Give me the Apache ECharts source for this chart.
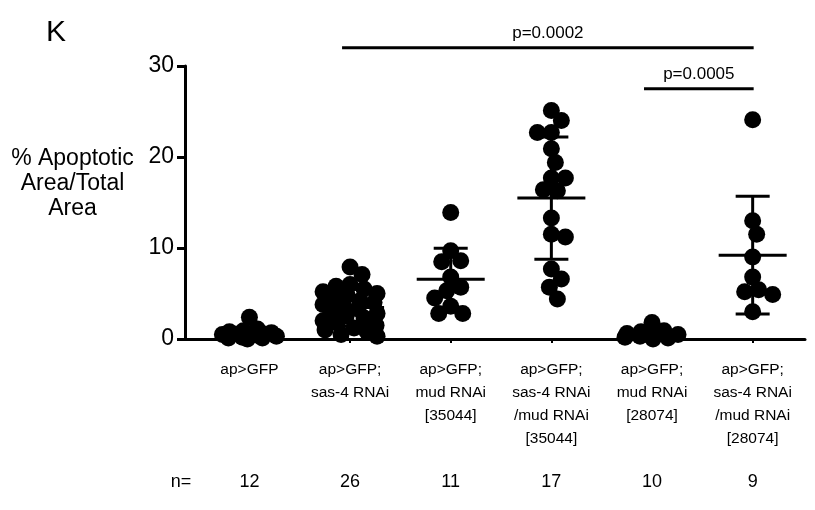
<!DOCTYPE html>
<html><head><meta charset="utf-8">
<script src="https://cdn.jsdelivr.net/npm/echarts@6/dist/echarts.min.js"></script>
<style>html,body{margin:0;padding:0;background:#fff}#c{width:815px;height:510px}</style>
</head><body><div id="c"></div>
<script>
// ---- data ----
const categories = [
  'ap>GFP',
  'ap>GFP;\nsas-4 RNAi',
  'ap>GFP;\nmud RNAi\n[35044]',
  'ap>GFP;\nsas-4 RNAi\n/mud RNAi\n[35044]',
  'ap>GFP;\nmud RNAi\n[28074]',
  'ap>GFP;\nsas-4 RNAi\n/mud RNAi\n[28074]'
];
const apGFP = [2.4, 1.1, 0.9, 0.8, 0.7, 0.5, 0.4, 0.3, 0.2, 0.1, 0.1, 0.0];
const sas4 = [7.9, 7.1, 6.0, 5.8, 5.5, 5.2, 5.0, 4.8, 4.5, 4.2, 4.0, 3.8, 3.5, 3.3, 3.0, 2.8, 2.5, 2.3, 2.0, 1.8, 1.5, 1.2, 1.0, 0.8, 0.5, 0.3];
const mud35044 = [13.9, 9.7, 8.6, 8.5, 6.8, 5.7, 5.3, 4.5, 3.6, 2.8, 2.8];
const sas4mud35044 = [25.1, 24.0, 22.7, 22.7, 20.9, 19.4, 17.7, 17.7, 16.4, 16.3, 13.3, 11.2, 11.5, 7.7, 6.6, 5.7, 4.4];
const mud28074 = [1.8, 0.9, 0.8, 0.6, 0.5, 0.4, 0.3, 0.2, 0.1, 0.0];
const sas4mud28074 = [24.1, 13.0, 11.5, 9.0, 6.8, 5.4, 5.2, 4.9, 3.0];
const groups = [apGFP, sas4, mud35044, sas4mud35044, mud28074, sas4mud28074];
const yTickValues = [0, 10, 20, 30];
const bracketFrom = [1, 4];
const bracketTo = [5, 5];
const bracketText = ['p=0.0002', 'p=0.0005'];
const bracketLevel = [32, 27.5];
const panelLetter = 'K';
const yTitle = '% Apoptotic\nArea/Total\nArea';
const nPrefix = 'n=';

// ---- chart ----
const FONT = '"Liberation Sans", Arial, Helvetica, sans-serif';
const chart = echarts.init(document.getElementById('c'), null, {renderer: 'canvas'});
const X_MIN = -0.64, X_MAX = 5.52;
const idx = groups.map((g, i) => i);

function meanSd(a) {
  const m = a.reduce((s, v) => s + v, 0) / a.length;
  const v = a.reduce((s, x) => s + (x - m) * (x - m), 0) / (a.length - 1);
  return [m, Math.sqrt(v)];
}

const baseOption = {
  animation: false,
  backgroundColor: '#fff',
  grid: {left: 185, right: 10, top: 66, bottom: 171, containLabel: false, outerBoundsMode: 'none'},
  xAxis: [{
    type: 'value', min: X_MIN, max: X_MAX, position: 'bottom',
    axisLine: {show: true, onZero: false, lineStyle: {color: '#000', width: 3}},
    axisTick: {show: true, customValues: idx, length: 4, lineStyle: {color: '#000', width: 2}},
    axisLabel: {show: true, customValues: idx, formatter: v => categories[Math.round(v)] || '',
      color: '#000', fontFamily: FONT, fontSize: 15.5, lineHeight: 23, margin: 19, align: 'center'},
    splitLine: {show: false}
  }, {
    type: 'value', min: X_MIN, max: X_MAX, position: 'bottom', offset: 126,
    axisLine: {show: false, onZero: false}, axisTick: {show: false},
    axisLabel: {show: true, customValues: idx, formatter: v => String(groups[Math.round(v)].length),
      color: '#000', fontFamily: FONT, fontSize: 18, margin: 8},
    splitLine: {show: false}
  }],
  yAxis: {
    type: 'value', min: 0, max: 30, interval: 10, position: 'left',
    axisLine: {show: true, onZero: false, lineStyle: {color: '#000', width: 3}},
    axisTick: {show: true, length: 8, lineStyle: {color: '#000', width: 3}, customValues: yTickValues},
    axisLabel: {color: '#000', fontFamily: FONT, fontSize: 23, margin: 11, customValues: yTickValues},
    splitLine: {show: false}
  },
  series: [{type: 'scatter', data: [], xAxisIndex: 0}]
};
chart.setOption(baseOption);

const p0 = chart.convertToPixel({seriesIndex: 0}, [0, 0]);
const p1 = chart.convertToPixel({seriesIndex: 0}, [1, 10]);
const pxX = p1[0] - p0[0];
const pxY = (p0[1] - p1[1]) / 10;

function swarm(vals) {
  const order = vals.map((v, i) => i).sort((a, b) => vals[b] - vals[a]);
  const placed = [];
  const off = new Array(vals.length).fill(0);
  const D = 14, maxOff = 27;
  for (const i of order) {
    const y = vals[i] * pxY;
    let best = 0, bestPen = Infinity;
    for (let k = 0; k <= maxOff * 2; k++) {
      const cand = (k % 2 === 1 ? 1 : -1) * Math.ceil(k / 2);
      let pen = 0;
      for (const p of placed) {
        const d = Math.hypot(cand - p.x, y - p.y);
        if (d < D) pen += D - d;
      }
      if (pen === 0) { best = cand; bestPen = 0; break; }
      if (pen < bestPen - 1e-9) { bestPen = pen; best = cand; }
    }
    off[i] = best;
    placed.push({x: best, y});
  }
  return off.map(o => o / pxX);
}

const scatterData = [];
groups.forEach((g, gi) => {
  const offs = swarm(g);
  g.forEach((v, j) => scatterData.push([gi + offs[j], v]));
});
const errData = groups.map((g, gi) => { const ms = meanSd(g); return [gi, ms[0], ms[1]]; });

const graphics = [
  {type: 'text', left: 46, top: 18, style: {text: panelLetter, font: '30px ' + FONT, fill: '#000'}},
  {type: 'text', x: 72.5, y: 183.5, style: {text: yTitle, font: '23px ' + FONT, fill: '#000', align: 'center', verticalAlign: 'middle', lineHeight: 25}},
  {type: 'text', x: 181, y: 482, style: {text: nPrefix, font: '18px ' + FONT, fill: '#000', align: 'center', verticalAlign: 'middle'}}
];
bracketFrom.forEach((f, i) => {
  const a = chart.convertToPixel({seriesIndex: 0}, [f, bracketLevel[i]]);
  const b = chart.convertToPixel({seriesIndex: 0}, [bracketTo[i], bracketLevel[i]]);
  const x1 = a[0] - 8, x2 = b[0] + 1, y = a[1];
  graphics.push({type: 'line', shape: {x1, y1: y, x2, y2: y}, style: {stroke: '#000', lineWidth: 3}});
  graphics.push({type: 'text', x: (x1 + x2) / 2, y: y - 14, style: {text: bracketText[i], font: '17px ' + FONT, fill: '#000', align: 'center', verticalAlign: 'middle'}});
});

chart.setOption({
  graphic: graphics,
  series: [{
    type: 'scatter', xAxisIndex: 0, data: scatterData, symbol: 'circle', symbolSize: 17,
    itemStyle: {color: '#000', opacity: 1}, clip: false, z: 2
  }, {
    type: 'custom', xAxisIndex: 0, data: errData, z: 3, clip: false,
    renderItem: (params, api) => {
      const x = api.value(0), m = api.value(1), s = api.value(2);
      const c = api.coord([x, m]);
      const t = api.coord([x, m + s]);
      const b = api.coord([x, m - s]);
      const st = {stroke: '#000', lineWidth: 3};
      return {type: 'group', children: [
        {type: 'line', shape: {x1: c[0] - 34, y1: c[1], x2: c[0] + 34, y2: c[1]}, style: st},
        {type: 'line', shape: {x1: c[0], y1: t[1], x2: c[0], y2: b[1]}, style: st},
        {type: 'line', shape: {x1: c[0] - 17, y1: t[1], x2: c[0] + 17, y2: t[1]}, style: st},
        {type: 'line', shape: {x1: c[0] - 17, y1: b[1], x2: c[0] + 17, y2: b[1]}, style: st}
      ]};
    }
  }]
});
</script>
</body></html>
